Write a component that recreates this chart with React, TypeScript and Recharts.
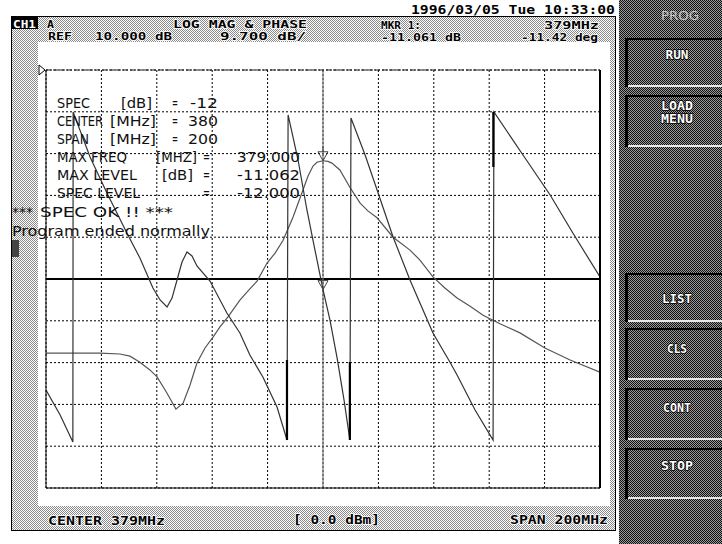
import React from "react";
import { LineChart, Line, XAxis, YAxis, CartesianGrid, ReferenceLine, ReferenceDot } from "recharts";

// LOG MAG trace, frequency in MHz and level in dB
const magFreq = [279.0, 291.3, 298.5, 305.7, 309.3, 312.9, 316.5, 319.1, 322.7, 325.9, 328.5, 331.0, 333.5, 336.4, 339.3, 341.8, 344.7, 349.0, 352.6, 355.2, 358.8, 361.7, 364.6, 368.2, 371.8, 373.6, 375.4, 376.8, 379.0, 380.8, 382.2, 385.1, 388.7, 392.4, 395.2, 398.5, 404.3, 410.4, 414.0, 418.7, 423.0, 427.4, 432.1, 436.8, 438.9, 442.9, 450.1, 459.1, 468.2, 479.0];
const magDb = [-55.7, -55.7, -55.7, -55.9, -56.4, -57.8, -59.6, -61.2, -65.0, -68.7, -67.3, -63.1, -58.0, -54.5, -52.0, -49.6, -47.3, -43.4, -40.8, -39.0, -34.8, -32.5, -29.5, -24.1, -17.8, -14.6, -12.3, -11.4, -11.06, -11.2, -11.6, -13.2, -17.2, -20.9, -22.7, -24.3, -28.8, -31.8, -34.1, -38.0, -40.6, -42.9, -44.8, -46.9, -47.6, -48.9, -51.0, -54.5, -57.3, -60.1];

// PHASE trace, degrees (wraps at +/-180)
const phaseFreq = [279.0, 284.1, 288.7, 288.8, 294.9, 301.0, 308.2, 312.9, 317.6, 320.2, 322.7, 324.5, 326.3, 328.1, 329.9, 331.7, 333.5, 338.2, 344.3, 349.0, 352.6, 357.3, 362.4, 366.0, 366.4, 370.0, 373.2, 376.1, 379.0, 381.5, 384.1, 386.6, 388.7, 389.1, 394.2, 398.9, 404.3, 410.4, 418.7, 424.8, 427.4, 433.9, 440.4, 440.7, 451.2, 461.0, 469.2, 479.0];
const phaseDeg = [-119.5, -146.4, -175.5, 179.8, 131.3, 92.6, 49.5, 22.6, -9.7, -22.6, -30.1, -20.5, -1.1, 18.3, 29.1, 24.8, 14.0, -2.2, -36.6, -58.1, -81.8, -105.5, -137.8, -173.3, 176.6, 128.1, 74.3, 31.2, -11.4, -44.1, -85.1, -130.3, -173.3, 173.3, 133.5, 92.6, 45.2, -1.1, -58.1, -89.4, -103.4, -141.0, -173.3, 179.8, 133.5, 90.4, 49.5, 2.2];

// heavier pieces of the wrap lines (start/end pairs)
const wrapFreq = [366.0, 366.0, 388.7, 388.7, 440.5, 440.5];
const wrapDeg = [-173.3, -87.2, -173.3, -89.4, 179.8, 120.6];

const freqTicks = [279, 299, 319, 339, 359, 379, 399, 419, 439, 459, 479];
const phaseTicks = [-225, -180, -135, -90, -45, 0, 45, 90, 135, 180, 225];

const markerFreq = 379;
const markerDb = -11.06;
const markerDeg = -11.42;

const magData = magFreq.map((f, i) => ({ f, db: magDb[i] }));
const phaseData = phaseFreq.map((f, i) => ({ f, ph: phaseDeg[i] }));
const wrapData: { f: number; ph: number | null }[] = [];
wrapFreq.forEach((f, i) => {
  wrapData.push({ f, ph: wrapDeg[i] });
  if (i % 2 === 1) wrapData.push({ f, ph: null });
});

const thin = '"Liberation Sans Narrow", "DejaVu Sans Condensed", "Liberation Sans", sans-serif';
const mono = '"DejaVu Sans Mono", "Liberation Mono", monospace';

function T({ x, y, w, s, size = 14, bold = false, fill = "#111", halo, anchor }: any) {
  return (
    <text
      x={x}
      y={y}
      textLength={w}
      lengthAdjust="spacingAndGlyphs"
      fontSize={size}
      fontWeight={bold ? 700 : 400}
      fontFamily={bold ? mono : thin}
      fill={fill}
      textAnchor={anchor}
      stroke={halo}
      strokeWidth={halo ? 1.4 : 0}
      paintOrder="stroke"
    >
      {s}
    </text>
  );
}

function Marker(p: any) {
  const { cx, cy, tick } = p;
  return (
    <g>
      <polygon points={`${cx - 5},${cy - 9} ${cx + 5},${cy - 9} ${cx},${cy}`} fill="none" stroke="#444" />
      {tick && <line x1={cx} x2={cx} y1={cy - 14} y2={cy - 9} stroke="#444" />}
    </g>
  );
}

const buttons = [
  { top: 38, bottom: 87, lines: [["RUN", 59, 23]] },
  { top: 95, bottom: 147, lines: [["LOAD", 110, 32], ["MENU", 123, 32]] },
  { top: 273, bottom: 322, lines: [["LIST", 303, 30]] },
  { top: 328, bottom: 380, lines: [["CLS", 353, 20]] },
  { top: 388, bottom: 440, lines: [["CONT", 412, 28]] },
  { top: 448, bottom: 499, lines: [["STOP", 470, 32]] },
];

export default function App() {
  const abs: React.CSSProperties = { position: "absolute", left: 0, top: 0 };
  return (
    <div style={{ ...abs, width: 722, height: 544, background: "#fff", overflow: "hidden" }}>
      <svg width={722} height={544} style={abs}>
        <defs>
          <pattern id="lt" width={2} height={2} patternUnits="userSpaceOnUse">
            <rect width={2} height={2} fill="#fff" />
            <rect width={1} height={1} fill="#8a8a8a" />
            <rect x={1} y={1} width={1} height={1} fill="#8a8a8a" />
          </pattern>
          <pattern id="dk" width={2} height={2} patternUnits="userSpaceOnUse">
            <rect width={2} height={2} fill="#9a9a9a" />
            <rect width={1} height={1} fill="#111" />
            <rect x={1} y={1} width={1} height={1} fill="#111" />
          </pattern>
        </defs>
        <rect x={11.5} y={16.5} width={604} height={514} fill="url(#lt)" stroke="#000" />
        <rect x={38} y={42} width={572} height={464} fill="#fff" />
        <rect x={11} y={17} width={27} height={12} fill="#000" />
        <rect x={12} y={240} width={7} height={17} fill="#444" />
        <rect x={619} y={0} width={103} height={544} fill="url(#dk)" />
        {buttons.map((b, i) => (
          <g key={i}>
            <rect x={625} y={b.top} width={97} height={2} fill="#000" />
            <rect x={625} y={b.top} width={3} height={b.bottom - b.top} fill="#000" />
            <rect x={628} y={b.bottom - 2} width={94} height={2} fill="#e8e8e8" />
          </g>
        ))}
      </svg>

      <div style={abs}>
        <LineChart width={722} height={544} margin={{ top: 70, right: 122, bottom: 56, left: 46 }}>
          <XAxis type="number" dataKey="f" domain={[279, 479]} ticks={freqTicks} allowDataOverflow hide />
          <YAxis type="number" domain={[-225, 225]} ticks={phaseTicks} allowDataOverflow hide />
          <YAxis yAxisId="mag" type="number" domain={[-87, 10]} allowDataOverflow hide />
          <CartesianGrid stroke="#000" strokeDasharray="2 2" />
          <ReferenceLine y={0} stroke="#000" strokeWidth={2} />
          <ReferenceLine x={markerFreq} stroke="#777" strokeWidth={1.2} />
          <Line data={magData} yAxisId="mag" dataKey="db" type="linear" stroke="#555" strokeWidth={1.2} dot={false} isAnimationActive={false} />
          <Line data={phaseData} dataKey="ph" type="linear" stroke="#333" strokeWidth={1.2} dot={false} isAnimationActive={false} />
          <Line data={wrapData} dataKey="ph" type="linear" stroke="#000" strokeWidth={2.2} dot={false} connectNulls={false} isAnimationActive={false} />
          <ReferenceDot x={markerFreq} y={markerDb} yAxisId="mag" shape={(p: any) => <Marker {...p} tick />} />
          <ReferenceDot x={markerFreq} y={markerDeg} shape={(p: any) => <Marker {...p} />} />
        </LineChart>
      </div>

      <svg width={722} height={544} style={{ ...abs, pointerEvents: "none" }}>
        {/* plot frame */}
        <line x1={46} x2={46} y1={70} y2={488} stroke="#000" />
        <line x1={600} x2={600} y1={70} y2={488} stroke="#000" strokeWidth={2} />
        <line x1={46} x2={600} y1={488} y2={488} stroke="#000" />
        <line x1={46} x2={600} y1={70} y2={70} stroke="#222" strokeDasharray="5 2" />
        <polygon points="39,65 39,75 45,70" fill="#fff" stroke="#000" />

        {/* header */}
        <T x={411} y={14} w={204} s="1996/03/05 Tue 10:33:00" size={12} bold fill="#000" />
        <T x={13} y={28} w={23} s="CH1" size={11} bold fill="#fff" />
        <T x={47} y={28} w={7} s="A" size={11} bold fill="#000" halo="#fff" />
        <T x={173} y={28} w={134} s="LOG MAG & PHASE" size={11} bold fill="#000" halo="#fff" />
        <T x={381} y={29} w={40} s="MKR 1:" size={11} bold fill="#000" halo="#fff" />
        <T x={544} y={29} w={55} s="379MHz" size={11} bold fill="#000" halo="#fff" />
        <T x={48} y={40} w={24} s="REF" size={11} bold fill="#000" halo="#fff" />
        <T x={95} y={40} w={77} s="10.000 dB" size={11} bold fill="#000" halo="#fff" />
        <T x={220} y={40} w={86} s="9.700 dB/" size={11} bold fill="#000" halo="#fff" />
        <T x={381} y={41} w={80} s="-11.061 dB" size={11} bold fill="#000" halo="#fff" />
        <T x={521} y={41} w={77} s="-11.42 deg" size={11} bold fill="#000" halo="#fff" />

        {/* footer */}
        <T x={48} y={525} w={117} s="CENTER 379MHz" size={12} bold fill="#000" halo="#fff" />
        <T x={293} y={524} w={87} s="[ 0.0 dBm]" size={12} bold fill="#000" halo="#fff" />
        <T x={510} y={524} w={98} s="SPAN 200MHz" size={12} bold fill="#000" halo="#fff" />

        {/* program output */}
        <T x={57} y={108} w={33} s="SPEC" />
        <T x={121} y={108} w={31} s="[dB]" />
        <T x={172} y={108} w={6} s="=" />
        <T x={190} y={108} w={28} s="-12" />
        <T x={57} y={126} w={46} s="CENTER" />
        <T x={110} y={126} w={46} s="[MHz]" />
        <T x={172} y={126} w={6} s="=" />
        <T x={188} y={126} w={30} s="380" />
        <T x={57} y={144} w={32} s="SPAN" />
        <T x={110} y={144} w={46} s="[MHz]" />
        <T x={172} y={144} w={6} s="=" />
        <T x={188} y={144} w={30} s="200" />
        <T x={57} y={162} w={70} s="MAX FREQ" />
        <T x={156} y={162} w={41} s="[MHZ]" />
        <T x={203} y={162} w={7} s="=" />
        <T x={237} y={162} w={63} s="379.000" />
        <T x={57} y={180} w={80} s="MAX LEVEL" />
        <T x={162} y={180} w={31} s="[dB]" />
        <T x={203} y={180} w={7} s="=" />
        <T x={237} y={180} w={63} s="-11.062" />
        <T x={57} y={198} w={83} s="SPEC LEVEL" />
        <T x={203} y={198} w={7} s="=" />
        <T x={237} y={198} w={63} s="-12.000" />
        <T x={12} y={217} w={21} s="***" />
        <T x={40} y={217} w={133} s="SPEC OK !! ***" />
        <T x={12} y={236} w={198} s="Program ended normally" />

        {/* soft keys */}
        <T x={680} y={20} w={38} s="PROG" size={12} fill="#c8c8c8" anchor="middle" />
        {buttons.map((b) =>
          b.lines.map(([s, y, w]) => (
            <T key={s as string} x={677} y={y} w={w} s={s} size={12} bold fill="#fff" halo="#000" anchor="middle" />
          ))
        )}
      </svg>
    </div>
  );
}
